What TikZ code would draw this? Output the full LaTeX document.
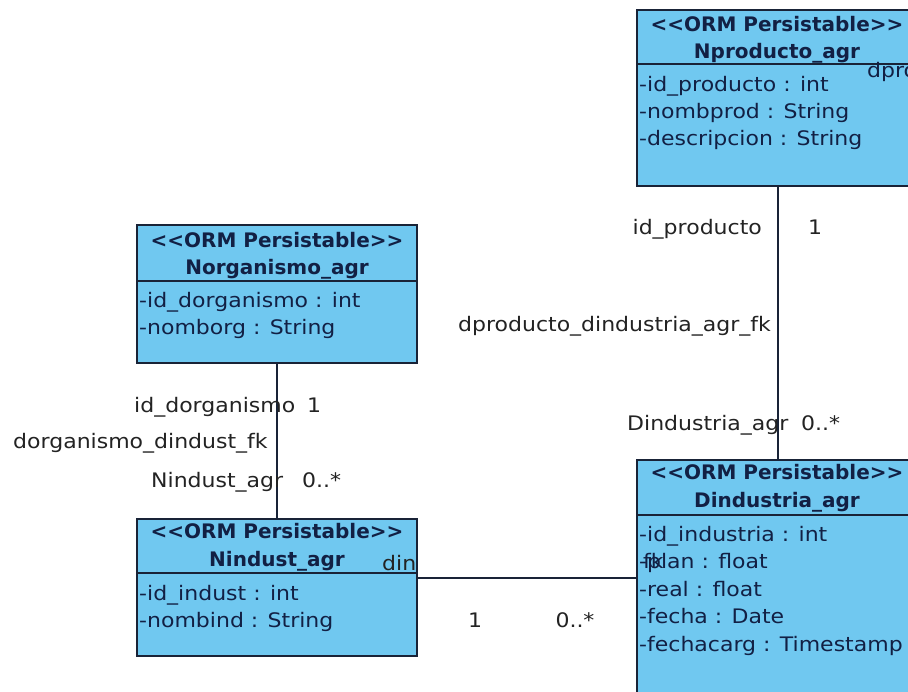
\documentclass[tikz,border=0pt]{standalone}
\usepackage{fontspec}
\newfontfamily\umlf[FakeStretch=1.1]{DejaVu Sans}
\newfontfamily\umlb{DejaVu Sans}
\definecolor{boxfill}{RGB}{112,200,240}
\definecolor{boxline}{RGB}{25,35,55}
\definecolor{intext}{RGB}{18,32,68}
\definecolor{outtext}{RGB}{35,35,35}
\tikzset{
  classbox/.style={draw=boxline, line width=1.4pt, fill=boxfill, inner sep=0pt},
  stereo/.style={font=\umlb\fontsize{20}{22}\selectfont\bfseries, text=intext, inner sep=0pt, anchor=mid, yshift=-4pt},
  attr/.style={font=\umlf\fontsize{20}{22}\selectfont, text=intext, inner sep=0pt, anchor=mid west, yshift=-7pt},
  lbl/.style={font=\umlf\fontsize{20}{22}\selectfont, text=outtext, inner sep=0pt, yshift=-7pt},
  conn/.style={draw=boxline, line width=1.4pt},
  divider/.style={draw=boxline, line width=1.2pt}
}
\begin{document}
\begin{tikzpicture}[x=1pt,y=-1pt]
\useasboundingbox (0,0) rectangle (908,692);
\clip (0,0) rectangle (908,692);
\fill[white] (0,0) rectangle (908,692);

% class boxes
\node[classbox, minimum width=282pt, minimum height=176pt] (nprod) at (778,98) {};
\node[classbox, minimum width=282pt, minimum height=260pt] (dind) at (778,590) {};
\node[classbox, minimum width=280pt, minimum height=138pt] (norg) at (277,294) {};
\node[classbox, minimum width=280pt, minimum height=137pt] (nind) at (277,587.5) {};

% dividers
\draw[divider] (nprod.west |- 0,64) -- (nprod.east |- 0,64);
\draw[divider] (dind.west |- 0,515) -- (dind.east |- 0,515);
\draw[divider] (norg.west |- 0,281) -- (norg.east |- 0,281);
\draw[divider] (nind.west |- 0,573) -- (nind.east |- 0,573);

% Nproducto_agr
\node[stereo] (nprodS) at (777,25) {<<ORM Persistable>>};
\node[stereo] (nprodN) at (777,52) {Nproducto\_agr};
\node[attr] (nprodA1) at (639,82) {-id\_producto : int};
\node[attr] (nprodA2) at (639,109) {-nombprod : String};
\node[attr] (nprodA3) at (639,136) {-descripcion : String};
\node[lbl, anchor=mid west, text=intext] (dpro) at (867,68) {dpro};

% Dindustria_agr
\node[stereo] (dindS) at (777,473) {<<ORM Persistable>>};
\node[stereo] (dindN) at (777,501) {Dindustria\_agr};
\node[attr] (dindA1) at (639,532) {-id\_industria : int};
\node[attr] (dindA2) at (639,559) {-plan : float};
\node[attr] (dindA3) at (639,587) {-real : float};
\node[attr] (dindA4) at (639,614) {-fecha : Date};
\node[attr] (dindA5) at (639,642) {-fechacarg : Timestamp};
\node[attr] (fk) at (643,559) {fk};

% Norganismo_agr
\node[stereo] (norgS) at (277,241) {<<ORM Persistable>>};
\node[stereo] (norgN) at (277,268) {Norganismo\_agr};
\node[attr] (norgA1) at (139,298) {-id\_dorganismo : int};
\node[attr] (norgA2) at (139,325) {-nomborg : String};

% Nindust_agr
\node[stereo] (nindS) at (277,532) {<<ORM Persistable>>};
\node[stereo] (nindN) at (277,560) {Nindust\_agr};
\node[attr] (nindA1) at (139,591) {-id\_indust : int};
\node[attr] (nindA2) at (139,618) {-nombind : String};

% connectors
\coordinate (hl) at (0,578);
\draw[conn] (nprod.south) -- (dind.north);
\draw[conn] (norg.south) -- (nind.north);
\draw[conn] (nind.east |- hl) -- (dind.west |- hl);

% connector labels
\node[lbl, anchor=mid east] (l1) at (762,225) {id\_producto};
\node[lbl, anchor=mid] (l2) at (815,225) {1};
\node[lbl, anchor=mid east] (l3) at (771,322) {dproducto\_dindustria\_agr\_fk};
\node[lbl, anchor=mid west] (l4) at (627,421) {Dindustria\_agr};
\node[lbl, anchor=mid west] (l5) at (801,421) {0..*};

\node[lbl, anchor=mid west] (l6) at (134,403) {id\_dorganismo};
\node[lbl, anchor=mid] (l7) at (314,403) {1};
\node[lbl, anchor=mid west] (l8) at (13,439) {dorganismo\_dindust\_fk};
\node[lbl, anchor=mid west] (l9) at (151,478) {Nindust\_agr};
\node[lbl, anchor=mid west] (l10) at (302,478) {0..*};

\begin{scope}
\clip (378,540) rectangle (417,580);
\node[lbl, anchor=mid west] (l11) at (382,561) {dink};
\end{scope}
\node[lbl, anchor=mid] (l12) at (475,618) {1};
\node[lbl, anchor=mid] (l13) at (575,618) {0..*};
\end{tikzpicture}
\end{document}
